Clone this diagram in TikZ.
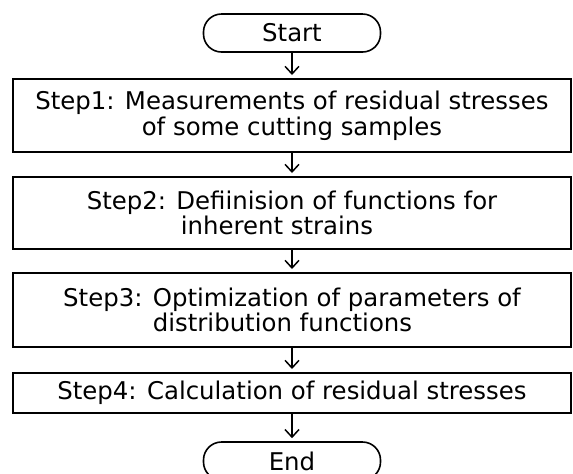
\documentclass[tikz,border=0pt]{standalone}
\usepackage{fontspec}
\setmainfont{DejaVu Sans}
\usetikzlibrary{arrows.meta,positioning}

\begin{document}
\begin{tikzpicture}[
  x=0.5pt,y=-0.5pt,
  font=\fontsize{12.2}{12.8}\selectfont,
  >={Straight Barb[length=3.8pt,width=7pt]},
  term/.style={draw, rounded corners=9pt, minimum width=88.5pt, minimum height=19pt, inner sep=0pt, line width=0.8pt},
  stepbox/.style={draw, align=center, minimum width=279pt, inner sep=0pt, line width=1pt},
  flow/.style={->, line width=0.75pt, shorten >=1.5pt},
]
\useasboundingbox (0,0) rectangle (573,473);

%% ---------- TERMINALS AND STEPS ----------
\node[term] (start) at (292,33) {Start};
\node[stepbox, minimum height=36.5pt] (step1) at (292,115.5)
  {Step1: Measurements of residual stresses\\of some cutting samples};
\node[stepbox, minimum height=36pt] (step2) at (292,213)
  {Step2: Defiinision of functions for\\inherent strains\hspace*{15pt}};
\node[stepbox, minimum height=37pt] (step3) at (292,310)
  {Step3: Optimization of parameters of\\distribution functions\hspace*{9.5pt}};
\node[stepbox, minimum height=20pt] (step4) at (292,393)
  {Step4: Calculation of residual stresses};
\node[term] (end) at (292,461) {End};

%% ---------- ARROWS ----------
\draw[flow] (start.south) -- (step1.north);
\draw[flow] (step1.south) -- (step2.north);
\draw[flow] (step2.south) -- (step3.north);
\draw[flow] (step3.south) -- (step4.north);
\draw[flow] (step4.south) -- (end.north);
\end{tikzpicture}
\end{document}
